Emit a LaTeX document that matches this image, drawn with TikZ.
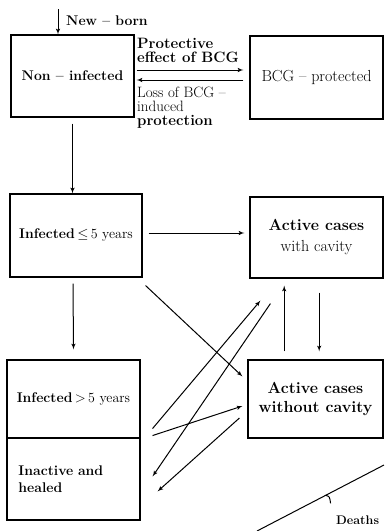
\documentclass[tikz,border=0pt]{standalone}
\usepackage{fontspec}
\usetikzlibrary{calc,arrows}
\tikzset{
      nodebox/.style={
          rectangle,
          line width=1.1pt,
          draw=black,
          inner sep=2pt,
          font=\fontsize{14}{17}\selectfont
      },
      widebox/.style={
          nodebox,
          font=\fontsize{16}{19}\selectfont
      },
      flow/.style={
          line width=1pt,
          -latex'
      },
      txt/.style={
          inner sep=0pt,
          font=\fontsize{15}{14}\selectfont
      }
  }

\begin{document}
\begin{tikzpicture}[x=1pt,y=-1pt]
    \useasboundingbox (0,0) rectangle (386,531);

    \node [nodebox, minimum width=123pt, minimum height=82pt] (noninf) at (72.5,76) {\textbf{Non -- infected}};
    \node [widebox, minimum width=133pt, minimum height=83pt] (bcg) at (316.5,77.5) {BCG -- protected};

    \node [nodebox, minimum width=132pt, minimum height=83pt, inner sep=1pt] (inf5) at (76,235.5) {\textbf{Infected}\,$\leq$\,5 years};
    \node [widebox, minimum width=133pt, minimum height=81pt, align=center] (withcav) at (316.5,237.5) {\textbf{Active cases}\\[2pt] with cavity};

    \node [nodebox, minimum width=133pt, minimum height=78pt, inner sep=1pt] (infold) at (73.5,399) {\textbf{Infected}\,$>$\,5 years};
    \node [nodebox, minimum width=133pt, minimum height=82pt, text width=110pt, align=left] (inactive) at (73.5,479) {\textbf{Inactive and}\\ \textbf{healed}};
    \node [widebox, minimum width=135pt, minimum height=78pt, align=center] (nocav) at (315.5,399) {\textbf{Active cases}\\ \textbf{without cavity}};

    %%
    \coordinate (born) at (58,9);
    \draw[flow] (born) -- (born |- noninf.north);
    \node [txt, anchor=west, font=\fontsize{14}{14}\selectfont] (bornlbl) at (66,21) {\textbf{New -- born}};

    \draw[flow] ($(noninf.east)+(2,-6)$) -- ($(noninf.east -| bcg.west)+(-6,-6)$);
    \draw[flow] ($(noninf.east -| bcg.west)+(-6,4)$) -- ($(noninf.east)+(2,4)$);
    \node [txt, anchor=south west, align=left] (protlbl) at (137,63) {\textbf{Protective}\\ \textbf{effect of BCG}};
    \node [txt, anchor=north west, align=left] (losslbl) at (137,87) {Loss of BCG --\\ induced\\ \textbf{protection}};
    %%

    \draw[flow] ($(noninf.south)+(0,6)$) -- (noninf.south |- inf5.north);
    \draw[flow] ($(inf5.east)+(6,-2.5)$) -- ($(inf5.east -| withcav.west)+(-5,-2.5)$);
    \draw[flow] ($(inf5.south)+(-3,6)$) -- ($(infold.north)+(0,-10)$);
    \draw[flow] ($(inf5.south east)+(3,8)$) -- ($(nocav.north west)+(-5,17)$);

    \coordinate (upfoot) at ($(nocav.north west)!0.27!(nocav.north east)+(0,-8)$);
    \draw[flow, shorten >=7pt] (upfoot) -- (upfoot |- withcav.south);
    \coordinate (downtop) at ($(withcav.south west)!0.52!(withcav.south east)+(0,14)$);
    \draw[flow, shorten >=8pt] (downtop) -- (downtop |- nocav.north);

    \draw[flow] ($(infold.south east)+(12,-10)$) -- ($(withcav.south west)+(11,22)$);
    \draw[flow] ($(withcav.south west)+(21,25)$) -- ($(inactive.north east)+(12,39)$);
    \draw[flow] ($(infold.south east)+(12,-3)$) -- ($(nocav.west)+(-5,7)$);
    \draw[flow] ($(nocav.west)+(-8,19)$) -- ($(inactive.north east)+(17,54)$);

    %%
    \coordinate (d1) at (257,531);
    \coordinate (d2) at (384,465);
    \draw[line width=1pt] (d1) -- (d2);
    \node [txt, anchor=west, font=\fontsize{12.5}{13}\selectfont] (deaths) at (336,520) {\textbf{Deaths}};
    \draw[line width=1pt] ($(d1)!0.54!(d2)$) .. controls +(4,1) .. +(5,8);
    %%
\end{tikzpicture}
\end{document}
